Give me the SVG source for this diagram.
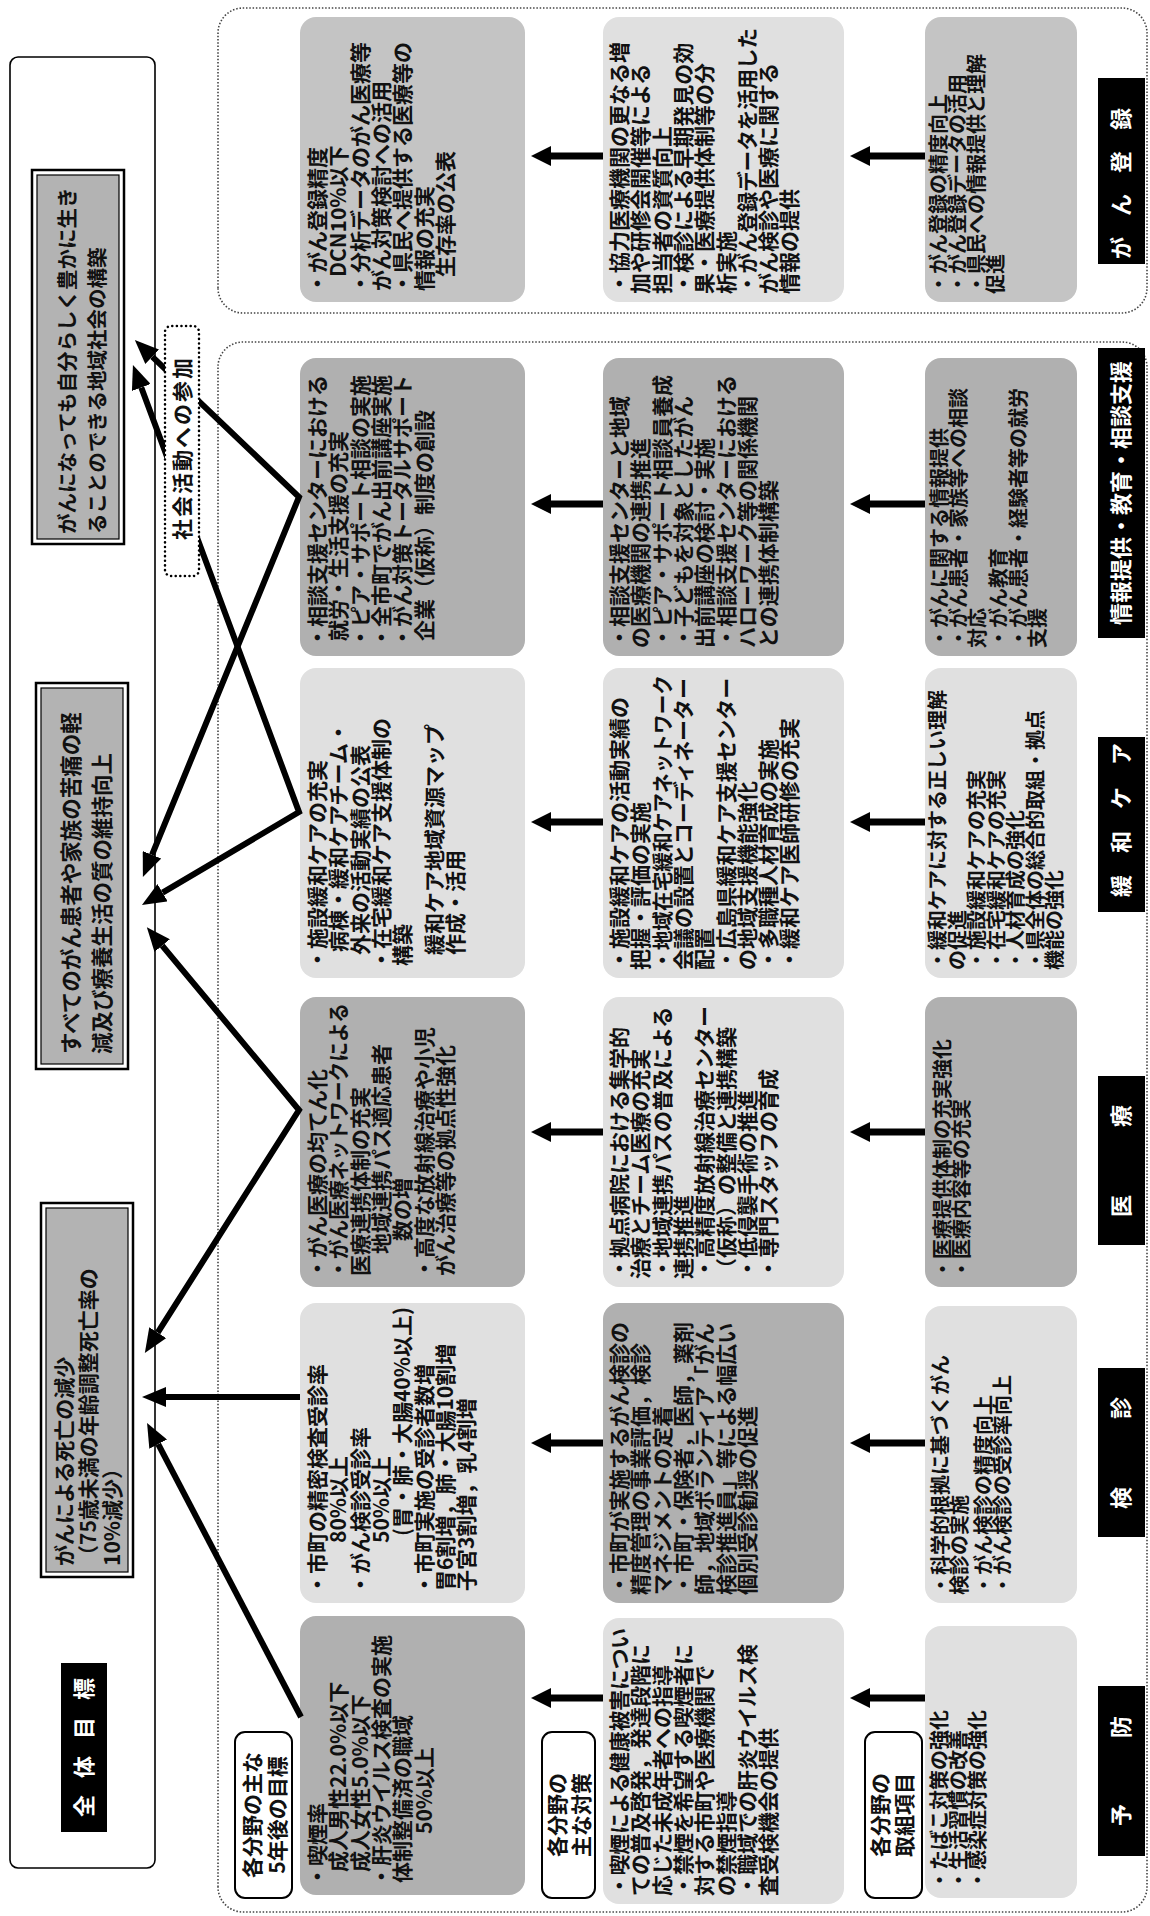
<svg xmlns="http://www.w3.org/2000/svg" width="1150" height="1916" viewBox="0 0 1150 1916">
<defs>
<style>
text{font-family:"Noto Sans CJK JP","Noto Sans CJK SC",sans-serif;font-weight:700;fill:#111}
.t{font-size:21px}
.s{font-size:20px}
.g{font-size:21px}
.cap{font-size:21px;text-anchor:middle}
.lab{font-size:22px;fill:#fff;text-anchor:middle}
.dark{fill:#b0b0b0}
.mid{fill:#c4c4c4}
.light{fill:#e0e0e0}
.panel{fill:none;stroke:#444;stroke-width:1.6;stroke-dasharray:1.5 1.8}
.goal-out{fill:#fff;stroke:#000;stroke-width:2.5}
.goal-in{fill:#b3b3b3;stroke:#000;stroke-width:1.2}
.tag{fill:#fff;stroke:#000;stroke-width:2}
.blk{fill:#000}
.conn{fill:none;stroke:#000;stroke-width:6;stroke-linejoin:miter}
.step{fill:none;stroke:#000;stroke-width:7}
</style>
<marker id="bigHead" markerUnits="userSpaceOnUse" markerWidth="24" markerHeight="20" refX="0" refY="10" orient="auto-start-reverse"><path d="M0,0 L24,10 L0,20 Z" fill="#000"/></marker>
<marker id="stepHead" markerUnits="userSpaceOnUse" markerWidth="20" markerHeight="20" refX="0" refY="10" orient="auto"><path d="M0,0 L20,10 L0,20 Z" fill="#000"/></marker>
</defs>
<rect width="1150" height="1916" fill="#fff"/>
<!-- landscape page, turned a quarter to read bottom-to-top -->
<g transform="translate(0,1916) rotate(-90)">

<!-- frames -->
<g id="panel-fields"><rect class="panel" x="4" y="218" width="1570" height="929" rx="25"/></g>
<g id="panel-registry"><rect class="panel" x="1603" y="218" width="305" height="929" rx="25"/></g>

<!-- overall goals -->
<g id="overall">
 <rect x="48" y="10" width="1811" height="145" rx="8" fill="#fff" stroke="#000" stroke-width="1.6"/>
</g>
<g id="overall-label">
 <rect class="blk" x="84" y="61" width="169" height="46"/>
 <text class="lab" x="110 149 188 227" y="92">全体目標</text>
</g>
<g id="goal-1">
 <rect class="goal-out" x="339" y="41" width="374" height="92"/>
 <rect class="goal-in" x="344" y="46" width="364" height="82"/>
 <text class="g" x="350" y="72">がんによる死亡の減少</text>
 <text class="g" x="350" y="96">（75歳未満の年齢調整死亡率の</text>
 <text class="g" x="350" y="120">10%減少）</text>
</g>
<g id="goal-2">
 <rect class="goal-out" x="847" y="36" width="386" height="92"/>
 <rect class="goal-in" x="852" y="41" width="376" height="82"/>
 <text class="g" style="font-size:21.5px" x="862" y="79">すべてのがん患者や家族の苦痛の軽</text>
 <text class="g" style="font-size:21.5px" x="862" y="110">減及び療養生活の質の維持向上</text>
</g>
<g id="goal-3">
 <rect class="goal-out" x="1372" y="32" width="374" height="92"/>
 <rect class="goal-in" x="1377" y="37" width="364" height="82"/>
 <text class="g" style="font-size:20.5px" x="1382" y="75">がんになっても自分らしく豊かに生き</text>
 <text class="g" style="font-size:20.5px" x="1382" y="105">ることのできる地域社会の構築</text>
</g>

<!-- row captions -->
<g id="caption-targets">
 <rect class="tag" x="18" y="235" width="166" height="57" rx="10"/>
 <text class="cap" x="101" y="260">各分野の主な</text>
 <text class="cap" x="101" y="285">5年後の目標</text>
</g>
<g id="caption-measures">
 <rect class="tag" x="18" y="542" width="166" height="53" rx="10"/>
 <text class="cap" x="101" y="565">各分野の</text>
 <text class="cap" x="101" y="589">主な対策</text>
</g>
<g id="caption-items">
 <rect class="tag" x="18" y="865" width="166" height="57" rx="10"/>
 <text class="cap" x="101" y="888">各分野の</text>
 <text class="cap" x="101" y="912">取組項目</text>
</g>

<!-- row 1: five-year targets -->
<g id="prevention-target">
 <rect class="dark" x="21" y="300" width="279" height="225" rx="16"/>
 <text class="t" x="29" y="325">・喫煙率</text>
 <text class="t" x="44" y="346">成人男性22.0%以下</text>
 <text class="t" x="44" y="368">成人女性5.0%以下</text>
 <text class="t" x="29" y="389">・肝炎ウイルス検査の実施</text>
 <text class="t" x="33" y="410">体制整備済の職域</text>
 <text class="t" x="82" y="432">50%以上</text>
</g>
<g id="screening-target">
 <rect class="light" x="313" y="300" width="300" height="225" rx="16"/>
 <text class="t" x="321" y="325">・市町の精密検査受診率</text>
 <text class="t" x="373" y="346">80%以上</text>
 <text class="t" x="321" y="368">・がん検診受診率</text>
 <text class="t" x="373" y="389">50%以上</text>
 <text class="t" x="380" y="410">(胃・肺・大腸40%以上)</text>
 <text class="t" x="321" y="432">・市町実施の受診者数増</text>
 <text class="t" x="325" y="453">胃6割増，肺・大腸10割増</text>
 <text class="t" x="325" y="474">子宮3割増，乳4割増</text>
</g>
<g id="medical-target">
 <rect class="dark" x="629" y="300" width="290" height="225" rx="16"/>
 <text class="t" x="637" y="325">・がん医療の均てん化</text>
 <text class="t" x="637" y="346" textLength="276" lengthAdjust="spacingAndGlyphs">・がん医療ネットワークによる</text>
 <text class="t" x="640" y="368">医療連携体制の充実</text>
 <text class="t" x="662" y="389">地域連携パス適応患者</text>
 <text class="t" x="675" y="410">数の増</text>
 <text class="t" x="637" y="432">・高度な放射線治療や小児</text>
 <text class="t" x="640" y="453">がん治療等の拠点性強化</text>
</g>
<g id="palliative-target">
 <rect class="light" x="938" y="300" width="310" height="225" rx="16"/>
 <text class="t" x="946" y="325">・施設緩和ケアの充実</text>
 <text class="t" x="964" y="346">病棟・緩和ケアチーム・</text>
 <text class="t" x="961" y="368">外来の活動実績の公表</text>
 <text class="t" x="946" y="389">・在宅緩和ケア支援体制の</text>
 <text class="t" x="950" y="410">構築</text>
 <text class="t" x="961" y="442">緩和ケア地域資源マップ</text>
 <text class="t" x="961" y="463">作成・活用</text>
</g>
<g id="info-target">
 <rect class="dark" x="1260" y="300" width="298" height="225" rx="16"/>
 <text class="t" x="1268" y="325">・相談支援センターにおける</text>
 <text class="t" x="1275" y="346">就労・生活支援の充実</text>
 <text class="t" x="1268" y="368">・ピア・サポート相談の実施</text>
 <text class="t" x="1268" y="389">・全市町でがん出前講座実施</text>
 <text class="t" x="1268" y="410">・がん対策トータルサポート</text>
 <text class="t" x="1275" y="432">企業（仮称）制度の創設</text>
</g>
<g id="registry-target">
 <rect class="mid" x="1614" y="300" width="285" height="225" rx="16"/>
 <text class="t" x="1622" y="325">・がん登録精度</text>
 <text class="t" x="1639" y="346">DCN10%以下</text>
 <text class="t" x="1622" y="368">・分析データのがん医療等</text>
 <text class="t" x="1625" y="389">がん対策検討への活用</text>
 <text class="t" x="1622" y="410">・県民へ提供する医療等の</text>
 <text class="t" x="1625" y="432">情報の充実</text>
 <text class="t" x="1639" y="453">生存率の公表</text>
</g>

<!-- row 2: main measures -->
<g id="prevention-measures">
 <rect class="light" x="12" y="603" width="286" height="241" rx="16"/>
 <text class="t" x="20" y="627" textLength="268" lengthAdjust="spacingAndGlyphs">・喫煙による健康被害につい</text>
 <text class="t" x="20" y="648">ての普及啓発，発達段階に</text>
 <text class="t" x="20" y="670">応じた未成年者への指導</text>
 <text class="t" x="20" y="691">・禁煙を希望する喫煙者に</text>
 <text class="t" x="20" y="712">対する市町や医療機関で</text>
 <text class="t" x="20" y="734">の禁煙指導</text>
 <text class="t" x="20" y="755">・職域での肝炎ウイルス検</text>
 <text class="t" x="20" y="776">査受検機会の提供</text>
</g>
<g id="screening-measures">
 <rect class="dark" x="313" y="603" width="300" height="241" rx="16"/>
 <text class="t" x="321" y="627">・市町が実施するがん検診の</text>
 <text class="t" x="321" y="648">精度管理の事業評価，検診</text>
 <text class="t" x="321" y="670">マネジメントの定着</text>
 <text class="t" x="321" y="691">・市町・保険者，医師，薬剤</text>
 <text class="t" x="321" y="712">師，地域ボランティア「がん</text>
 <text class="t" x="321" y="734">検診推進員」等による幅広い</text>
 <text class="t" x="321" y="755">個別受診勧奨の促進</text>
</g>
<g id="medical-measures">
 <rect class="light" x="629" y="603" width="290" height="241" rx="16"/>
 <text class="t" x="637" y="627">・拠点病院における集学的</text>
 <text class="t" x="637" y="648">治療とチーム医療の充実</text>
 <text class="t" x="637" y="670">・地域連携パスの普及による</text>
 <text class="t" x="637" y="691">連携推進</text>
 <text class="t" x="637" y="712">・高精度放射線治療センター</text>
 <text class="t" x="637" y="734">（仮称）の整備と連携構築</text>
 <text class="t" x="637" y="755">・低侵襲手術の推進</text>
 <text class="t" x="637" y="776">・専門スタッフの育成</text>
</g>
<g id="palliative-measures">
 <rect class="light" x="938" y="603" width="310" height="241" rx="16"/>
 <text class="t" x="946" y="627">・施設緩和ケアの活動実績の</text>
 <text class="t" x="946" y="648">把握・評価の実施</text>
 <text class="t" x="946" y="670" textLength="295" lengthAdjust="spacingAndGlyphs">・地域在宅緩和ケアネットワーク</text>
 <text class="t" x="946" y="691" textLength="292" lengthAdjust="spacingAndGlyphs">会議の設置とコーディネーター</text>
 <text class="t" x="946" y="712">配置</text>
 <text class="t" x="946" y="734" textLength="292" lengthAdjust="spacingAndGlyphs">・広島県緩和ケア支援センター</text>
 <text class="t" x="946" y="755">の地域支援機能強化</text>
 <text class="t" x="946" y="776">・多職種人材育成の実施</text>
 <text class="t" x="946" y="797">・緩和ケア医師研修の充実</text>
</g>
<g id="info-measures">
 <rect class="dark" x="1260" y="603" width="298" height="241" rx="16"/>
 <text class="t" x="1268" y="627">・相談支援センターと地域</text>
 <text class="t" x="1268" y="648">の医療機関の連携推進</text>
 <text class="t" x="1268" y="670">・ピア・サポート相談員養成</text>
 <text class="t" x="1268" y="691">・子どもを対象としたがん</text>
 <text class="t" x="1268" y="712">出前講座の検討・実施</text>
 <text class="t" x="1268" y="734">・相談支援センターにおける</text>
 <text class="t" x="1268" y="755">ハローワーク等の関係機関</text>
 <text class="t" x="1268" y="776">との連携体制構築</text>
</g>
<g id="registry-measures">
 <rect class="light" x="1614" y="603" width="285" height="241" rx="16"/>
 <text class="t" x="1622" y="627">・協力医療機関の更なる増</text>
 <text class="t" x="1622" y="648">加や研修会開催等による</text>
 <text class="t" x="1622" y="670">担当者の資質向上</text>
 <text class="t" x="1622" y="691">・検診による早期発見の効</text>
 <text class="t" x="1622" y="712">果・医療提供体制等の分</text>
 <text class="t" x="1622" y="734">析実施</text>
 <text class="t" x="1622" y="755" textLength="266" lengthAdjust="spacingAndGlyphs">・がん登録データを活用した</text>
 <text class="t" x="1622" y="776">がん検診や医療に関する</text>
 <text class="t" x="1622" y="797">情報の提供</text>
</g>

<!-- row 3: action items -->
<g id="prevention-items">
 <rect class="light" x="18" y="925" width="272" height="152" rx="16"/>
 <text class="s" x="26" y="947">・たばこ対策の強化</text>
 <text class="s" x="26" y="966">・生活習慣の改善</text>
 <text class="s" x="26" y="985">・感染症対策の強化</text>
</g>
<g id="screening-items">
 <rect class="light" x="313" y="925" width="297" height="152" rx="16"/>
 <text class="s" x="321" y="948">・科学的根拠に基づくがん</text>
 <text class="s" x="321" y="967">検診の実施</text>
 <text class="s" x="321" y="991">・がん検診の精度向上</text>
 <text class="s" x="321" y="1010">・がん検診の受診率向上</text>
</g>
<g id="medical-items">
 <rect class="dark" x="629" y="925" width="290" height="152" rx="16"/>
 <text class="s" x="637" y="950">・医療提供体制の充実強化</text>
 <text class="s" x="637" y="969">・医療内容等の充実</text>
</g>
<g id="palliative-items">
 <rect class="light" x="938" y="925" width="310" height="152" rx="16"/>
 <text class="s" x="946" y="945">・緩和ケアに対する正しい理解</text>
 <text class="s" x="946" y="964.5">の促進</text>
 <text class="s" x="946" y="984">・施設緩和ケアの充実</text>
 <text class="s" x="946" y="1003.5">・在宅緩和ケアの充実</text>
 <text class="s" x="946" y="1023">・人材育成の強化</text>
 <text class="s" x="946" y="1042.5">・県全体の総合的取組・拠点</text>
 <text class="s" x="946" y="1062">機能の強化</text>
</g>
<g id="info-items">
 <rect class="dark" x="1260" y="925" width="298" height="152" rx="16"/>
 <text class="s" x="1268" y="947">・がんに関する情報提供</text>
 <text class="s" x="1268" y="966">・がん患者・家族等への相談</text>
 <text class="s" x="1268" y="985">対応</text>
 <text class="s" x="1268" y="1006">・がん教育</text>
 <text class="s" x="1268" y="1026">・がん患者・経験者等の就労</text>
 <text class="s" x="1268" y="1045">支援</text>
</g>
<g id="registry-items">
 <rect class="mid" x="1614" y="925" width="285" height="152" rx="16"/>
 <text class="s" x="1622" y="946">・がん登録の精度向上</text>
 <text class="s" x="1622" y="965">・がん登録データの活用</text>
 <text class="s" x="1622" y="984">・県民への情報提供と理解</text>
 <text class="s" x="1622" y="1003">促進</text>
</g>

<!-- field names -->
<g id="field-prevention"><rect class="blk" x="60" y="1098" width="170" height="47"/><text class="lab" x="101 189" y="1129">予防</text></g>
<g id="field-screening"><rect class="blk" x="379" y="1098" width="169" height="47"/><text class="lab" x="418 508" y="1129">検診</text></g>
<g id="field-medical"><rect class="blk" x="671" y="1098" width="169" height="47"/><text class="lab" x="710 800" y="1129">医療</text></g>
<g id="field-palliative"><rect class="blk" x="1004" y="1098" width="175" height="47"/><text class="lab" x="1030 1074 1118 1162" y="1129">緩和ケア</text></g>
<g id="field-info"><rect class="blk" x="1278" y="1098" width="290" height="47"/><text class="lab" x="1423" y="1129">情報提供・教育・相談支援</text></g>
<g id="field-registry"><rect class="blk" x="1652" y="1098" width="186" height="47"/><text class="lab" x="1668 1711 1754 1797" y="1129">がん登録</text></g>

<!-- connectors -->
<g id="connectors">
 <path class="step" marker-end="url(#stepHead)" d="M218,603 L218,551"/>
 <path class="step" marker-end="url(#stepHead)" d="M473,603 L473,551"/>
 <path class="step" marker-end="url(#stepHead)" d="M784,603 L784,551"/>
 <path class="step" marker-end="url(#stepHead)" d="M1094,603 L1094,551"/>
 <path class="step" marker-end="url(#stepHead)" d="M1412,603 L1412,551"/>
 <path class="step" marker-end="url(#stepHead)" d="M1760,603 L1760,551"/>
 <path class="step" marker-end="url(#stepHead)" d="M218,925 L218,870"/>
 <path class="step" marker-end="url(#stepHead)" d="M473,925 L473,870"/>
 <path class="step" marker-end="url(#stepHead)" d="M784,925 L784,870"/>
 <path class="step" marker-end="url(#stepHead)" d="M1094,925 L1094,870"/>
 <path class="step" marker-end="url(#stepHead)" d="M1412,925 L1412,870"/>
 <path class="step" marker-end="url(#stepHead)" d="M1760,925 L1760,870"/>
 <path class="conn" marker-end="url(#bigHead)" d="M199,301 L471.8,158.2"/>
 <path class="conn" marker-end="url(#bigHead)" d="M519,300 L519,166"/>
 <path class="conn" marker-start="url(#bigHead)" marker-end="url(#bigHead)" d="M583.3,157.7 L806,299 L970.4,162.2"/>
 <path class="conn" marker-start="url(#bigHead)" marker-end="url(#bigHead)" d="M1023.3,162.6 L1104,299 L1528.5,141.3"/>
 <path class="conn" marker-start="url(#bigHead)" marker-end="url(#bigHead)" d="M1061.2,152 L1419,299 L1559.3,152.2"/>
</g>

<!-- social participation note, drawn over the lines that pass beneath it -->
<g id="social">
 <rect x="1340" y="165" width="250" height="34" rx="6" fill="#fff" stroke="#000" stroke-width="2.5" stroke-dasharray="0.1 4.5" stroke-linecap="round"/>
 <text x="1468" y="190" style="font-size:21px;text-anchor:middle;letter-spacing:2px">社会活動への参加</text>
</g>
</g>
</svg>
